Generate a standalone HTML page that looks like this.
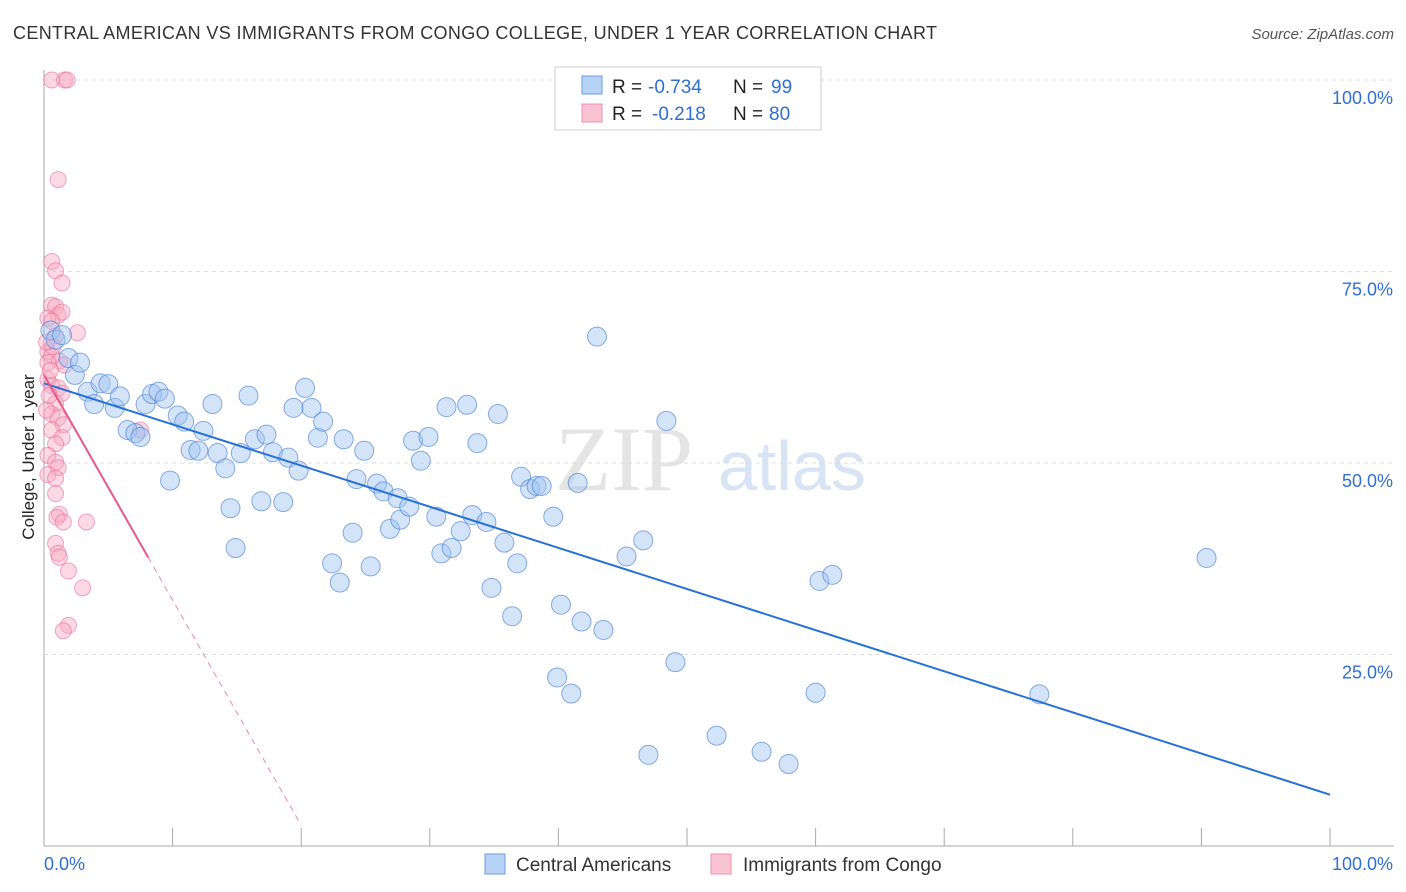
<!DOCTYPE html>
<html><head><meta charset="utf-8">
<style>
body{margin:0;background:#fff;font-family:"Liberation Sans",sans-serif;}
svg{display:block}
</style></head>
<body>
<svg id="chart" width="1406" height="892" xmlns="http://www.w3.org/2000/svg">
<text x="13" y="39" font-size="18" fill="#333" textLength="924">CENTRAL AMERICAN VS IMMIGRANTS FROM CONGO COLLEGE, UNDER 1 YEAR CORRELATION CHART</text>
<text x="1394" y="39" font-size="15" fill="#555" text-anchor="end" font-style="italic">Source: ZipAtlas.com</text>
<text x="555" y="490" font-size="92" fill="#e4e4e4" font-family="Liberation Serif,serif">ZIP</text>
<text x="718" y="490" font-size="70" fill="#d6e4f5">atlas</text>
<g id="grid"></g>
<g id="axes"></g>
<g id="pts"></g>
<g id="lines"></g>
<text transform="translate(34,457) rotate(-90)" font-size="17" fill="#222" text-anchor="middle">College, Under 1 year</text>
<g>
<rect x="555" y="67" width="266" height="63" fill="#fff" stroke="#ccc"/>
<rect x="582" y="76" width="20" height="18" fill="#b8d2f5" stroke="#6a9de0"/>
<rect x="582" y="104" width="20" height="18" fill="#fac3d4" stroke="#ee8fae"/>
<text x="612" y="93" font-size="19" fill="#222">R =</text>
<text x="648" y="93" font-size="19" fill="#2f6fd4">-0.734</text>
<text x="733" y="93" font-size="19" fill="#222">N =</text>
<text x="771" y="93" font-size="19" fill="#2f6fd4">99</text>
<text x="612" y="120" font-size="19" fill="#222">R =</text>
<text x="652" y="120" font-size="19" fill="#2f6fd4">-0.218</text>
<text x="733" y="120" font-size="19" fill="#222">N =</text>
<text x="769" y="120" font-size="19" fill="#2f6fd4">80</text>
</g>
<g>
<rect x="485" y="854" width="20" height="20" fill="#b8d2f5" stroke="#6a9de0"/>
<text x="516" y="871" font-size="19" fill="#333">Central Americans</text>
<rect x="711" y="854" width="20" height="20" fill="#fac3d4" stroke="#ee8fae"/>
<text x="743" y="871" font-size="19" fill="#333">Immigrants from Congo</text>
</g>
</svg>
<script>
const yTicks=[25,50,75,100];
const yTickLabels=["25.0%","50.0%","75.0%","100.0%"];
const blueX=[0.5,0.9,1.4,1.9,2.4,2.8,3.4,3.9,4.4,5.0,5.5,5.9,6.5,7.1,7.5,7.9,8.4,8.9,9.4,9.8,10.4,10.9,11.4,12.0,12.4,13.1,13.5,14.1,14.5,14.9,15.3,15.9,16.4,16.9,17.3,17.8,18.6,19.0,19.4,19.8,20.3,20.8,21.3,21.7,22.4,23.0,23.3,24.0,24.3,24.9,25.4,25.9,26.4,26.9,27.5,27.7,28.4,28.7,29.3,29.9,30.5,30.9,31.3,31.7,32.4,32.9,33.3,33.7,34.4,34.8,35.3,35.8,36.4,36.8,37.1,37.8,38.3,38.7,39.6,39.9,40.2,41.0,41.5,41.8,43.5,43.0,45.3,46.6,47.0,48.4,49.1,52.3,55.8,57.9,60.0,60.3,61.3,77.4,90.4];
const blueY=[67.3,66.1,66.7,63.7,61.5,63.1,59.3,57.7,60.4,60.3,57.2,58.7,54.3,53.9,53.4,57.7,59.0,59.3,58.4,47.7,56.2,55.4,51.7,51.6,54.2,57.7,51.3,49.3,44.1,38.9,51.3,58.8,53.1,45.0,53.7,51.4,44.9,50.7,57.2,49.0,59.8,57.2,53.3,55.4,36.9,34.4,53.1,40.9,47.9,51.6,36.5,47.3,46.3,41.4,45.4,42.6,44.3,52.9,50.3,53.4,43.0,38.2,57.3,38.9,41.1,57.6,43.2,52.6,42.3,33.7,56.4,39.6,30.0,36.9,48.2,46.6,47.0,47.0,43.0,22.0,31.5,19.9,47.4,29.3,28.2,66.5,37.8,39.9,11.9,55.5,24.0,14.4,12.3,10.7,20.0,34.6,35.4,19.8,37.6];
const pinkX=[0.6,1.6,1.8,1.1,0.6,0.9,1.4,0.6,0.9,1.1,1.4,0.3,0.6,2.6,0.9,0.3,0.6,1.2,1.6,0.3,0.6,1.1,1.4,0.9,0.6,1.1,1.5,0.6,1.4,0.9,0.3,0.9,1.1,0.3,0.9,0.9,1.2,1.0,1.5,3.3,0.9,1.1,1.2,1.9,3.0,1.9,1.5,7.5,0.3,0.5,0.7,0.2,0.4,0.2];
const pinkY=[100,100,100,87.0,76.3,75.1,73.5,70.6,70.4,69.3,69.7,68.9,68.5,67.0,66.6,64.5,64.0,63.3,62.8,60.9,60.1,59.8,59.1,57.8,56.4,55.9,55.0,54.3,53.3,52.5,51.0,50.1,49.4,48.5,48.0,46.0,43.3,42.9,42.3,42.3,39.5,38.2,37.7,35.9,33.7,28.8,28.1,54.3,63.1,62.1,65.2,65.8,58.8,56.9];
const blueIntercept=60.4, blueEnd=6.7;
const pinkIntercept=61.5, pinkSlope=-2.94, pinkSolidEnd=8.1, pinkDashEnd=20;
const NS="http://www.w3.org/2000/svg";
const xs=v=>44+v*12.86, ys=v=>846-v*7.66;
function mk(tag,attrs,parent){const e=document.createElementNS(NS,tag);for(const k in attrs)e.setAttribute(k,attrs[k]);parent.appendChild(e);return e;}
const grid=document.getElementById('grid'),axes=document.getElementById('axes'),pts=document.getElementById('pts'),lines=document.getElementById('lines');
yTicks.forEach((t,i)=>{
  const l=mk('line',{x1:44,x2:1394,y1:ys(t),y2:ys(t),stroke:'#ddd','stroke-dasharray':'4,4'},grid);
  
  
  const tx=mk('text',{x:1393,y:ys(t)+24,'font-size':18,fill:'#2f6fd4','text-anchor':'end'},axes);
  tx.textContent=yTickLabels[i];
  
  
});
const ax=mk('line',{x1:44,x2:44,y1:70,y2:846,stroke:'#aaa'},axes);


const bx=mk('line',{x1:44,x2:1394,y1:846,y2:846,stroke:'#aaa'},axes);


for(let i=1;i<=10;i++){const t=mk('line',{x1:xs(i*10),x2:xs(i*10),y1:828,y2:846,stroke:'#aaa'},axes);

}
[['0.0%',44,'start'],['100.0%',1393,'end']].forEach(a=>{const t=mk('text',{x:a[1],y:870,'font-size':18,fill:'#2f6fd4','text-anchor':a[2]},axes);t.textContent=a[0];

});
pinkX.forEach((x,i)=>{const c=mk('circle',{cx:xs(x),cy:ys(pinkY[i]),r:8,fill:'rgba(248,170,195,0.45)',stroke:'rgba(232,110,150,0.6)'},pts);

});
blueX.forEach((x,i)=>{const c=mk('circle',{cx:xs(x),cy:ys(blueY[i]),r:9.5,fill:'rgba(160,195,240,0.45)',stroke:'rgba(70,130,215,0.65)'},pts);

});
const bl=mk('line',{x1:xs(0),y1:ys(blueIntercept),x2:xs(100),y2:ys(blueEnd),stroke:'#2470d8','stroke-width':2},lines);


const pl=mk('line',{x1:xs(0),y1:ys(pinkIntercept),x2:xs(pinkSolidEnd),y2:ys(pinkIntercept+pinkSlope*pinkSolidEnd),stroke:'#e8578a','stroke-width':2},lines);


const pd=mk('line',{x1:xs(pinkSolidEnd),y1:ys(pinkIntercept+pinkSlope*pinkSolidEnd),x2:xs(pinkDashEnd),y2:ys(pinkIntercept+pinkSlope*pinkDashEnd),stroke:'#e8578a','stroke-width':1,'stroke-dasharray':'6,5','opacity':0.7},lines);


</script>
</body></html>
